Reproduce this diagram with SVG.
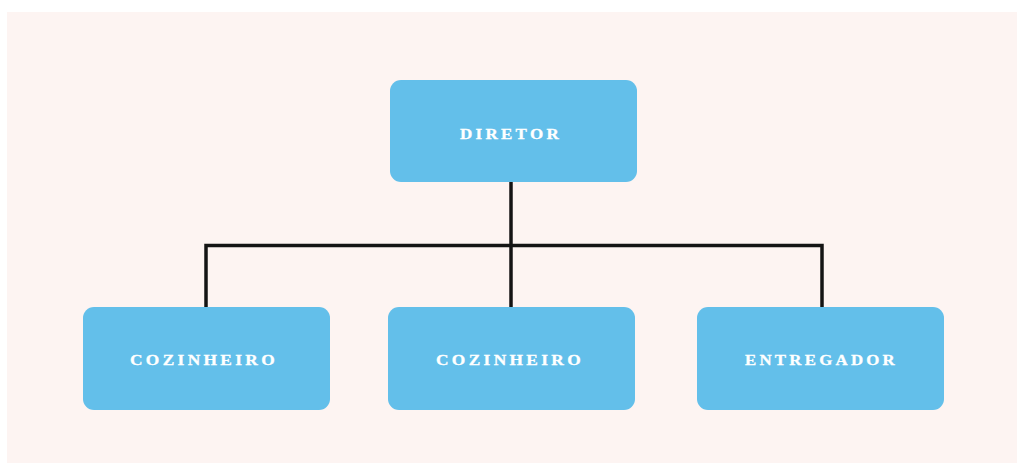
<svg xmlns="http://www.w3.org/2000/svg" width="1017" height="463" viewBox="0 0 1017 463">
  <style>
    .box { fill: #63bfea; }
    .label { font-family: "Liberation Serif", "Times New Roman", serif; font-weight: bold; font-size: 15.5px; letter-spacing: 3px; fill: #ffffff; stroke: #ffffff; stroke-width: 0.3; }
    .link { fill: none; stroke: #141414; stroke-width: 3.5; stroke-linecap: square; stroke-linejoin: miter; }
  </style>
  <rect x="0" y="0" width="1017" height="463" fill="#ffffff"/>
  <rect x="7" y="12" width="1010" height="451" fill="#fdf4f2"/>

  <g id="connectors">
    <path class="link" d="M511,182 V307"/>
    <path class="link" d="M206,307 V245.5 H822 V307"/>
  </g>

  <g id="diretor">
    <rect class="box" x="390" y="80" width="247" height="102" rx="11"/>
    <text class="label" x="460" y="138.5" textLength="102" lengthAdjust="spacingAndGlyphs">DIRETOR</text>
  </g>
  <g id="cozinheiro-1">
    <rect class="box" x="83" y="307" width="247" height="103" rx="11"/>
    <text class="label" x="130" y="364.5" textLength="148" lengthAdjust="spacingAndGlyphs">COZINHEIRO</text>
  </g>
  <g id="cozinheiro-2">
    <rect class="box" x="388" y="307" width="247" height="103" rx="11"/>
    <text class="label" x="436" y="364.5" textLength="148" lengthAdjust="spacingAndGlyphs">COZINHEIRO</text>
  </g>
  <g id="entregador">
    <rect class="box" x="697" y="307" width="247" height="103" rx="11"/>
    <text class="label" x="745" y="364.5" textLength="153" lengthAdjust="spacingAndGlyphs">ENTREGADOR</text>
  </g>
</svg>
